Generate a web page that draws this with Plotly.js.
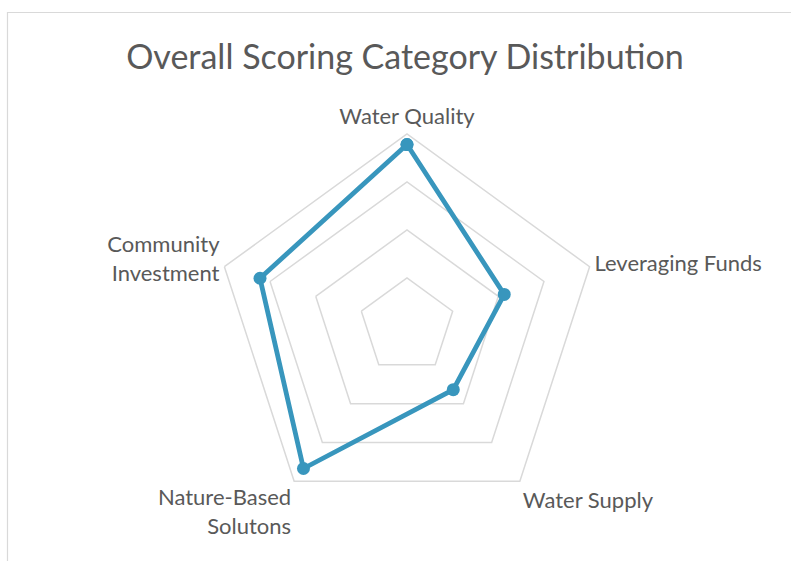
<!DOCTYPE html>
<html>
<head>
<meta charset="utf-8">
<script src="https://cdn.plot.ly/plotly-3.0.1.min.js"></script>
<style>
  html, body { margin: 0; padding: 0; background: #ffffff; }
  #chart { width: 791px; height: 561px; }
</style>
</head>
<body>
<div id="chart"></div>
<script>
const categories = ["Water Quality", "Leveraging Funds", "Water Supply", "Nature-Based<br>Solutons", "Community<br>Investment"];
const scores = [3.78, 2.13, 1.64, 3.67, 3.22];
const titleText = "Overall Scoring Category Distribution";

const W = 791, H = 561;
const cx = 407, cy = 326, R = 192;

const trace = {
  type: "scatterpolar",
  r: scores.concat([scores[0]]),
  theta: categories.concat([categories[0]]),
  mode: "lines+markers",
  line: { color: "#3896bd", width: 4.8 },
  marker: { color: "#3896bd", size: 13 },
  hoverinfo: "skip",
  showlegend: false
};

const layout = {
  width: W, height: H,
  margin: { l: 0, r: 0, t: 0, b: 0 },
  paper_bgcolor: "#ffffff",
  font: { family: "Lato, 'Open Sans', sans-serif", color: "#595959" },
  title: {
    text: titleText,
    font: { size: 34, color: "#595959", family: "Lato, 'Open Sans', sans-serif" },
    x: 405 / W, xanchor: "center",
    y: 1 - 57 / H, yanchor: "middle"
  },
  polar: {
    domain: {
      x: [(cx - R) / W, (cx + R) / W],
      y: [(H - cy - R) / H, (H - cy + R) / H]
    },
    gridshape: "linear",
    bgcolor: "rgba(0,0,0,0)",
    radialaxis: {
      range: [0, 4],
      dtick: 1,
      showticklabels: false,
      ticks: "",
      showline: false,
      gridcolor: "#d9d9d9",
      gridwidth: 1.5
    },
    angularaxis: {
      direction: "clockwise",
      rotation: 90,
      showgrid: false,
      showline: true,
      linecolor: "#d9d9d9",
      linewidth: 1.5,
      ticks: "",
      tickfont: { size: 22, color: "#595959" }
    }
  },
  shapes: [{
    type: "rect", xref: "paper", yref: "paper",
    x0: 7.5 / W, x1: 1.05, y0: -0.05, y1: 1 - 12.5 / H,
    line: { color: "#d9d9d9", width: 1.2 }, fillcolor: "rgba(0,0,0,0)"
  }]
};

Plotly.newPlot("chart", [trace], layout, { displayModeBar: false, staticPlot: true });
</script>
</body>
</html>
